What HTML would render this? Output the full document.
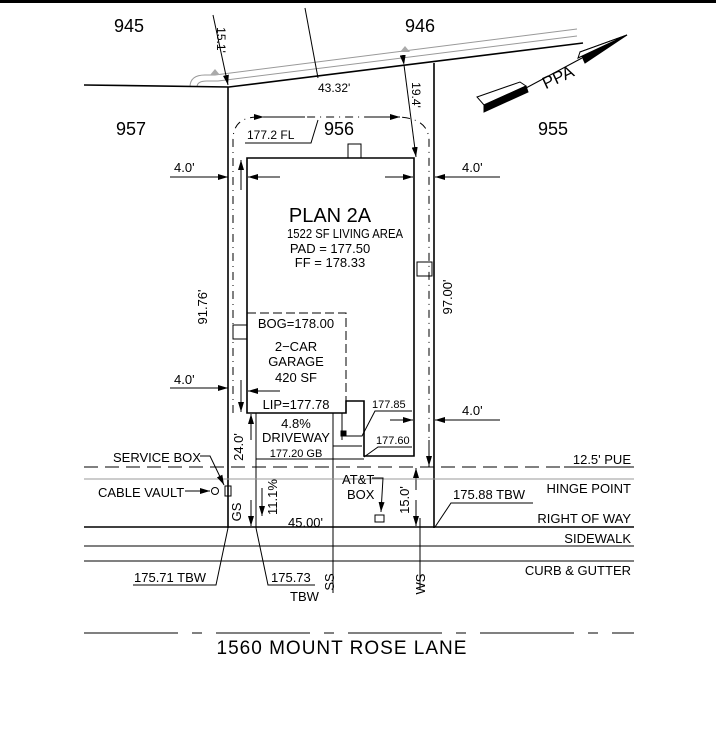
<!DOCTYPE html>
<html><head><meta charset="utf-8"><style>
html,body{margin:0;padding:0;background:#fff;}
svg{display:block;}
text{font-family:"Liberation Sans",sans-serif;fill:#000;}
</style></head><body>
<svg width="716" height="747" viewBox="0 0 716 747" xmlns="http://www.w3.org/2000/svg">
<defs>
<marker id="ar" viewBox="0 0 10 6" refX="10" refY="3" markerWidth="10" markerHeight="6" markerUnits="userSpaceOnUse" orient="auto"><path d="M0,0 L10,3 L0,6 z" fill="#000"/></marker>
</defs>
<rect x="0" y="0" width="716" height="3" fill="#000"/>
<g font-size="18">
<text x="114" y="32">945</text><text x="405" y="32">946</text>
<text x="116" y="135">957</text><text x="324" y="135">956</text><text x="538" y="135">955</text>
</g>
<g stroke="#999" stroke-width="1" fill="none">
<path d="M190,87 Q190,75 205,75 L215,75 L577,29"/>
<path d="M197,87 Q197,81 207,81 L218,81 L577,36"/>
</g>
<path d="M210,75 L215,69 L220,75 z M400,52 L405,46 L410,52z" fill="#aaa"/>
<g stroke="#000" fill="none">
<path d="M84,85 L229,87 L583,43" stroke-width="1.6"/>
<line x1="228" y1="87" x2="228" y2="528" stroke-width="1.6"/>
<line x1="434" y1="63" x2="434" y2="528" stroke-width="1.6"/>
<line x1="213" y1="15" x2="228" y2="85" stroke-width="1" marker-end="url(#ar)"/>
<line x1="305" y1="8" x2="318" y2="78" stroke-width="1"/>
<line x1="404" y1="65" x2="416" y2="157" stroke-width="1" marker-start="url(#ar)" marker-end="url(#ar)"/>
</g>
<text x="217" y="40" font-size="12" text-anchor="middle" transform="rotate(90 217 40)">15.1'</text>
<text x="318" y="92" font-size="12">43.32'</text>
<text x="412" y="95" font-size="12" text-anchor="middle" transform="rotate(90 412 95)">19.4'</text>
<g stroke="#000" stroke-width="1">
<path d="M477,97 L520,82 L526,86 L484,105 z" fill="#fff"/>
<path d="M484,105 L526,86 L528,92 L484,112 z" fill="#000"/>
<path d="M580,52 L627,35 L585,63 z" fill="#000"/>
<path d="M580,52 L627,35 L578,58 z" fill="#fff"/>
<line x1="526" y1="88" x2="582" y2="58"/>
</g>
<text x="540" y="84" font-size="17" transform="rotate(-25 555 74)">PPA</text>
<path d="M233,413 L233,140 Q233,117 258,117 L395,117 Q428,117 429,140 L429,467" fill="none" stroke="#000" stroke-width="1" stroke-dasharray="8,5,1,5"/>
<line x1="264" y1="117" x2="305" y2="117" stroke="#000" marker-start="url(#ar)"/>
<line x1="365" y1="117" x2="400" y2="117" stroke="#000" marker-end="url(#ar)"/>
<text x="247" y="139" font-size="12">177.2 FL</text>
<path d="M245,143 L311,143 L318,120" fill="none" stroke="#000"/>
<path d="M247,158 L414,158 L414,456 L364,456 L364,401 L346,401 L346,413 L247,413 Z" fill="none" stroke="#000" stroke-width="1.6"/>
<path d="M247,313 L346,313 L346,401" fill="none" stroke="#000" stroke-dasharray="9,4"/>
<rect x="348" y="144" width="13" height="14" fill="none" stroke="#000"/>
<rect x="417" y="262" width="15" height="14" fill="none" stroke="#000"/>
<rect x="233" y="325" width="14" height="14" fill="none" stroke="#000"/>
<text x="287" y="238" font-size="13" textLength="116" lengthAdjust="spacingAndGlyphs">1522 SF LIVING AREA</text>
<g text-anchor="middle">
<text x="330" y="222" font-size="20">PLAN 2A</text>
<text x="330" y="253" font-size="13">PAD = 177.50</text>
<text x="330" y="267" font-size="13">FF = 178.33</text>
<text x="296" y="328" font-size="13">BOG=178.00</text>
<text x="296" y="351" font-size="13">2−CAR</text>
<text x="296" y="366" font-size="13">GARAGE</text>
<text x="296" y="382" font-size="13">420 SF</text>
<text x="296" y="409" font-size="13">LIP=177.78</text>
<text x="296" y="428" font-size="13">4.8%</text>
<text x="296" y="442" font-size="13">DRIVEWAY</text>
<text x="296" y="457" font-size="11">177.20 GB</text>
</g>
<g stroke="#000" stroke-width="1">
<line x1="170" y1="177" x2="228" y2="177" marker-end="url(#ar)"/>
<line x1="280" y1="177" x2="248" y2="177" marker-end="url(#ar)"/>
<line x1="170" y1="388" x2="228" y2="388" marker-end="url(#ar)"/>
<line x1="280" y1="391" x2="248" y2="391" marker-end="url(#ar)"/>
<line x1="500" y1="177" x2="435" y2="177" marker-end="url(#ar)"/>
<line x1="385" y1="177" x2="413" y2="177" marker-end="url(#ar)"/>
<line x1="500" y1="420" x2="435" y2="420" marker-end="url(#ar)"/>
<line x1="390" y1="420" x2="413" y2="420" marker-end="url(#ar)"/>
<line x1="241" y1="190" x2="241" y2="160" marker-end="url(#ar)"/>
<line x1="241" y1="380" x2="241" y2="412" marker-end="url(#ar)"/>
<line x1="429" y1="440" x2="429" y2="466" marker-end="url(#ar)"/>
<line x1="251" y1="440" x2="251" y2="414" marker-end="url(#ar)"/>
<line x1="251" y1="500" x2="251" y2="526" marker-end="url(#ar)"/>
<line x1="416" y1="490" x2="416" y2="468" marker-end="url(#ar)"/>
<line x1="416" y1="500" x2="416" y2="526" marker-end="url(#ar)"/>
<line x1="262" y1="488" x2="262" y2="516" marker-end="url(#ar)"/>
</g>
<g font-size="13">
<text x="174" y="172">4.0'</text><text x="174" y="384">4.0'</text>
<text x="462" y="172">4.0'</text><text x="462" y="415">4.0'</text>
</g>
<text x="207" y="307" font-size="13" transform="rotate(-90 207 307)" text-anchor="middle">91.76'</text>
<text x="452" y="297" font-size="13" transform="rotate(-90 452 297)" text-anchor="middle">97.00'</text>
<text x="243" y="447" font-size="13" transform="rotate(-90 243 447)" text-anchor="middle">24.0'</text>
<text x="409" y="500" font-size="13" transform="rotate(-90 409 500)" text-anchor="middle">15.0'</text>
<text x="277" y="497" font-size="13" transform="rotate(-90 277 497)" text-anchor="middle">11.1%</text>
<text x="241" y="512" font-size="13" transform="rotate(-90 241 512)" text-anchor="middle">GS</text>
<text x="334" y="582" font-size="13" transform="rotate(-90 334 582)" text-anchor="middle">SS</text>
<text x="425" y="584" font-size="13" transform="rotate(-90 425 584)" text-anchor="middle">WS</text>
<text x="288" y="527" font-size="13">45.00'</text>
<g stroke="#000" stroke-width="1" fill="none">
<line x1="256" y1="413" x2="256" y2="528"/>
<line x1="333" y1="413" x2="333" y2="593"/>
<line x1="420" y1="518" x2="420" y2="590"/>
<path d="M333,413 L333,446 L362,446"/>
<path d="M342,413 L342,440"/>
<rect x="341" y="431" width="5" height="5" fill="#000"/>
<line x1="256" y1="459" x2="333" y2="459"/>
<line x1="333" y1="459" x2="364" y2="459"/>
<path d="M346,436 L362,436 L375,411 L412,411"/>
<path d="M364,457 L378,447 L412,447"/>
</g>
<text x="372" y="408" font-size="11">177.85</text>
<text x="376" y="444" font-size="11">177.60</text>
<line x1="84" y1="467" x2="634" y2="467" stroke="#000" stroke-dasharray="14,7"/>
<line x1="84" y1="479" x2="634" y2="479" stroke="#999"/>
<line x1="84" y1="527" x2="634" y2="527" stroke="#000" stroke-width="1.6"/>
<line x1="84" y1="546" x2="634" y2="546" stroke="#000"/>
<line x1="84" y1="561" x2="634" y2="561" stroke="#000"/>
<g font-size="13" text-anchor="end">
<text x="631" y="464">12.5' PUE</text>
<text x="631" y="493">HINGE POINT</text>
<text x="631" y="523">RIGHT OF WAY</text>
<text x="631" y="543">SIDEWALK</text>
<text x="631" y="575">CURB &amp; GUTTER</text>
</g>
<line x1="564" y1="467" x2="631" y2="467" stroke="#000"/>
<g font-size="13">
<text x="113" y="462">SERVICE BOX</text>
<text x="98" y="497">CABLE VAULT</text>
<text x="342" y="484">AT&amp;T</text>
<text x="347" y="499">BOX</text>
<text x="453" y="499">175.88 TBW</text>
<text x="134" y="582">175.71 TBW</text>
<text x="271" y="582">175.73</text>
<text x="290" y="601">TBW</text>
</g>
<g stroke="#000" stroke-width="1" fill="none">
<path d="M200,456 L210,456 L224,485" marker-end="url(#ar)"/>
<line x1="185" y1="491" x2="210" y2="491" marker-end="url(#ar)"/>
<circle cx="215" cy="491" r="3.5"/>
<rect x="225" y="486" width="6" height="10"/>
<path d="M372,478 L383,478 L381,512" marker-end="url(#ar)"/>
<rect x="375" y="515" width="9" height="7"/>
<path d="M533,503 L451,503 L435,527"/>
<path d="M133,585 L216,585 L228,528"/>
<path d="M315,585 L268,585 L256,528"/>
</g>
<line x1="84" y1="633" x2="634" y2="633" stroke="#000" stroke-dasharray="94,14,10,14"/>
<text x="342" y="654" font-size="19" text-anchor="middle" letter-spacing="1">1560 MOUNT ROSE LANE</text>
</svg>
</body></html>
